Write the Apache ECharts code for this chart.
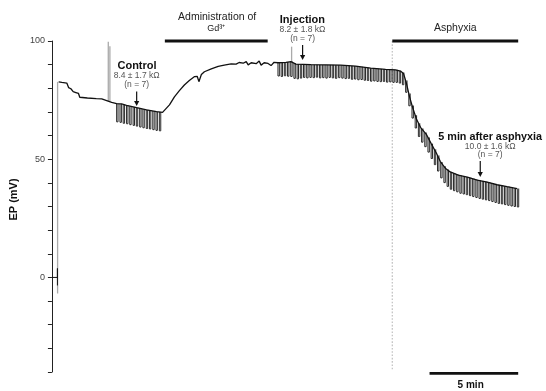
<!DOCTYPE html>
<html><head><meta charset="utf-8">
<script src="https://cdn.jsdelivr.net/npm/echarts@6/dist/echarts.min.js"></script>
<style>html,body{margin:0;padding:0;background:#fff}#c{width:546px;height:391px}</style>
</head><body><div id="c"></div>
<script>
// ---- data (time in minutes, EP in mV) ----
const traceTime = [0.38,0.56,0.84,0.94,1.07,1.20,1.35,1.50,1.57,1.62,2.00,2.50,2.81,3.09,3.37,3.65,3.93,4.21,4.78,5.34,5.90,6.24,6.35,6.63,6.91,7.19,7.47,7.75,8.03,8.20,8.29,8.37,8.43,8.60,8.99,9.38,9.72,10.11,10.39,10.56,10.79,10.96,11.07,11.24,11.52,11.69,11.80,11.97,12.19,12.36,12.53,12.75,13.20,13.48,13.76,14.61,15.45,16.29,17.13,17.98,18.82,19.38,19.66,19.83,20.00,20.17,20.34,20.56,20.79,21.12,21.40,21.69,21.91,22.19,22.47,22.92,23.43,23.99,24.55,25.11,25.67,26.24];
const traceEP = [82.7,82.5,82.2,80.3,79.8,78.6,78.2,77.8,76.2,75.7,75.9,75.6,75.5,74.8,74.0,73.5,73.4,72.8,71.8,70.9,70.1,69.8,70.2,73.0,76.4,79.0,81.4,83.3,84.9,85.0,82.8,83.5,85.8,87.0,88.2,89.3,89.8,90.3,90.2,90.9,90.6,91.3,89.9,90.8,90.4,91.5,89.8,90.8,90.5,89.6,91.0,90.8,91.0,91.3,90.2,90.0,89.9,89.8,89.4,88.5,88.0,87.8,87.3,86.3,82.0,76.5,72.0,67.0,63.5,60.5,56.5,52.5,49.0,46.2,44.6,43.3,42.4,41.2,40.3,39.2,38.4,37.6];

// resistance test pulses: time, top (trace level), bottom of deflection
const pulseTime = [3.65,3.84,4.02,4.21,4.39,4.58,4.76,4.95,5.13,5.32,5.50,5.69,5.87,6.06,
 12.75,12.93,13.11,13.29,13.47,13.65,13.83,14.01,14.19,14.37,14.55,14.73,14.91,15.09,15.27,15.45,15.63,15.81,15.99,16.17,16.35,16.53,16.71,16.89,17.07,17.25,17.43,17.61,17.79,17.97,18.15,18.33,18.51,18.69,18.87,19.05,19.23,19.41,
 19.59,19.77,19.95,20.13,20.31,20.49,20.67,20.85,21.03,21.21,21.39,21.57,21.75,21.93,22.11,22.29,22.47,22.65,22.83,23.01,23.19,23.37,23.55,23.73,23.91,24.09,24.27,24.45,24.63,24.81,24.99,25.17,25.35,25.53,25.71,25.89,26.07,26.25];
const pulseTop = [73.5,73.4,73.0,72.8,72.4,72.1,71.8,71.5,71.2,70.9,70.7,70.4,70.1,70.0,
 90.8,90.9,91.0,91.1,91.3,90.6,90.2,90.1,90.1,90.0,90.0,90.0,90.0,89.9,89.9,89.9,89.9,89.9,89.8,89.8,89.8,89.7,89.6,89.5,89.4,89.3,89.1,88.9,88.7,88.5,88.4,88.3,88.2,88.1,88.0,88.0,87.9,87.8,
 87.4,86.7,83.3,77.8,72.7,68.6,65.2,63.0,61.3,59.2,56.6,54.2,51.6,48.8,47.0,45.6,44.6,44.1,43.6,43.1,42.8,42.5,42.2,41.8,41.4,41.0,40.8,40.5,40.2,39.9,39.5,39.1,38.9,38.6,38.4,38.1,37.8,37.6];
const pulseBottom = [65.8,65.6,65.2,65.0,64.6,64.3,64.0,63.6,63.3,63.0,62.8,62.5,62.2,62.0,
 85.2,85.0,85.3,85.1,85.0,84.2,84.0,84.3,84.6,84.4,84.6,84.5,84.7,84.4,84.5,84.3,84.6,84.4,84.2,84.5,84.3,84.1,84.2,83.8,83.9,83.6,83.7,83.4,83.3,83.0,83.1,82.9,82.8,82.9,82.6,82.7,82.5,82.5,
 82.2,81.5,78.3,72.6,67.4,63.2,59.6,57.2,55.3,53.0,50.3,47.7,45.0,42.1,40.1,38.5,37.3,36.7,36.2,35.6,35.3,35.0,34.6,34.2,33.8,33.4,33.1,32.8,32.5,32.1,31.7,31.3,31.1,30.8,30.5,30.2,30.0,29.8];

// fast transients (electrode insertion, artefacts)
const transientTime = [0.32,3.18,3.27,13.52];
const transientFrom = [-6.8,74.6,74.4,91.3];
const transientTo = [82.7,99.7,97.8,97.6];

// zero reference before insertion
const refTime = [0.00,0.31,0.31,0.31];
const refEP = [0,0,3.8,-3.4];

const yTickLabels = [0,50,100];

// annotation bars: [start, end, level]
const barStart = [6.37,19.20,21.30];
const barEnd = [12.17,26.30,26.30];
const barLevel = [100,100,-40.6];
const asphyxiaOnset = 19.2;

// ---- chart ----
const FONT = '"Liberation Sans", Arial, Helvetica, sans-serif';
const chart = echarts.init(document.getElementById('c'));
const baseline = traceTime.map((t,i)=>[t,traceEP[i]]);
const pulses = pulseTime.map((t,i)=>[t,pulseTop[i],pulseBottom[i]]);
const transients = transientTime.map((t,i)=>[t,transientFrom[i],transientTo[i]]);
const zeroRef = refTime.map((t,i)=>[t,refEP[i]]);

function vLine(color,width,offset){
  return function(params, api){
    const a = api.coord([api.value(0), api.value(1)]);
    const b = api.coord([api.value(0), api.value(2)]);
    if(offset){
      return {type:'polyline', shape:{points:[[a[0],a[1]],[b[0],b[1]],[b[0]+offset,b[1]],[a[0]+offset,a[1]]]},
        style:{stroke:color, fill:null, lineWidth:width}};
    }
    return {type:'line', shape:{x1:a[0],y1:a[1],x2:b[0],y2:b[1]}, style:{stroke:color,lineWidth:width}};
  };
}

chart.setOption({
  animation:false,
  grid:{left:50, top:41, width:480.6, height:331},
  xAxis:{type:'value', min:0, max:27, show:false},
  yAxis:{type:'value', min:-40, max:100, interval:10,
    name:'EP (mV)', nameLocation:'middle', nameGap:23,
    nameTextStyle:{fontFamily:FONT, fontSize:11, fontWeight:'bold', color:'#111', padding:[0,0,0,14]},
    axisLine:{show:true, lineStyle:{color:'#222', width:1}},
    axisTick:{show:true, length:4, lineStyle:{color:'#222'}},
    axisLabel:{formatter:v=>yTickLabels.includes(v)?String(v):'', fontFamily:FONT, fontSize:9, color:'#444', margin:7},
    splitLine:{show:false}},
  series:[
    {type:'custom', data:transients, encode:{x:0,y:[1,2]}, renderItem:vLine('#aaa',1.3,0), z:1},
    {type:'line', data:zeroRef, showSymbol:false, lineStyle:{color:'#111',width:1}, z:3},
    {type:'line', data:baseline, showSymbol:false, lineStyle:{color:'#111',width:1.3}, z:3},
    {type:'custom', data:pulses, encode:{x:0,y:[1,2]}, renderItem:vLine('#2a2a2a',1.0,1.4), z:2}
  ]
});

const px = (t,v)=>chart.convertToPixel({gridIndex:0},[t,v]);
const g = [];
// dotted asphyxia onset line
{
  const a = px(asphyxiaOnset,100), b = px(asphyxiaOnset,-39.4);
  g.push({type:'line', shape:{x1:a[0],y1:a[1],x2:b[0],y2:b[1]}, style:{stroke:'#c4c4c4', lineWidth:1.3, lineDash:[1.6,1.7]}, z:0});
}
barStart.forEach((s,i)=>{
  const a = px(s,barLevel[i]), b = px(barEnd[i],barLevel[i]);
  g.push({type:'line', shape:{x1:a[0],y1:a[1],x2:b[0],y2:b[1]}, style:{stroke:'#111', lineWidth:2.8}});
});
const texts = [
  ['Administration of',9.32,110.3,10.5,'normal','#222'],
  ['Gd³⁺',9.27,105.1,9,'normal','#222'],
  ['Injection',14.13,108.9,11,'bold','#111'],
  ['8.2 ± 1.8 kΩ',14.13,104.9,8.5,'normal','#555'],
  ['(n = 7)',14.14,101.1,8.5,'normal','#555'],
  ['Asphyxia',22.75,105.5,10.5,'normal','#222'],
  ['Control',4.80,89.6,11,'bold','#111'],
  ['8.4 ± 1.7 kΩ',4.78,85.2,8.5,'normal','#555'],
  ['(n = 7)',4.78,81.7,8.5,'normal','#555'],
  ['5 min after asphyxia',24.72,59.5,10.8,'bold','#111'],
  ['10.0 ± 1.6 kΩ',24.72,55.3,8.5,'normal','#555'],
  ['(n = 7)',24.72,51.8,8.5,'normal','#555'],
  ['5 min',23.62,-45.5,10,'bold','#111']
];
texts.forEach(([s,t,v,fs,fw,col])=>{
  const p = px(t,v);
  g.push({type:'text', x:p[0], y:p[1], style:{text:s, fontFamily:FONT, fontSize:fs, fontWeight:fw, fill:col,
    align:'center', verticalAlign:'middle', textAlign:'center', textVerticalAlign:'middle'}});
});
const arrows = [[4.78,78.6,72.5],[14.14,98.3,92.0],[24.16,49.2,42.5]];
arrows.forEach(([t,v1,v2])=>{
  const a = px(t,v1), b = px(t,v2);
  g.push({type:'line', shape:{x1:a[0],y1:a[1],x2:b[0],y2:b[1]-4}, style:{stroke:'#111', lineWidth:1.2}});
  g.push({type:'polygon', shape:{points:[[b[0]-2.6,b[1]-5],[b[0]+2.6,b[1]-5],[b[0],b[1]]]}, style:{fill:'#111'}});
});
chart.setOption({graphic:{elements:g}});
</script>
</body></html>
